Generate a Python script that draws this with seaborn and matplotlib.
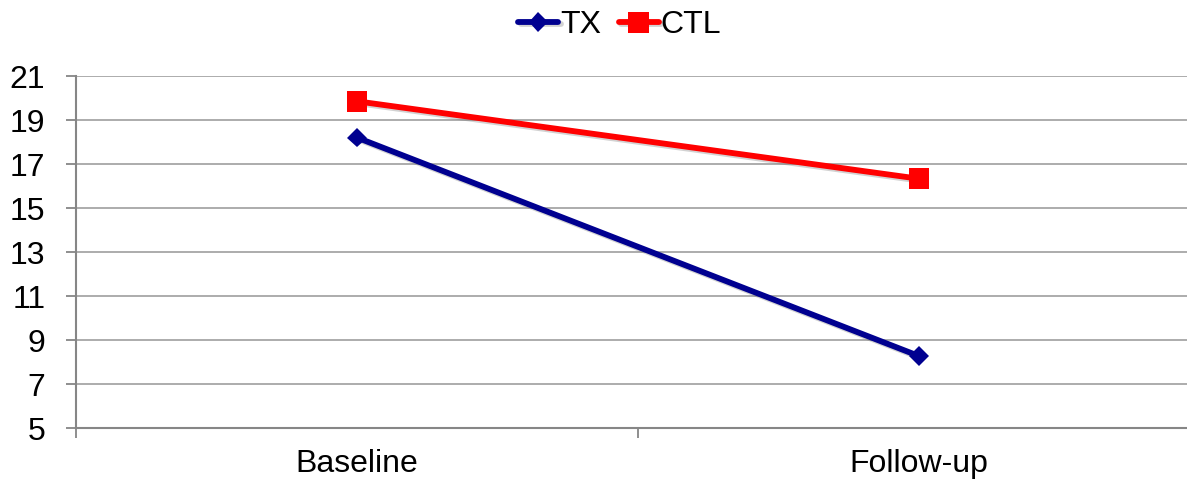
import matplotlib
matplotlib.use("Agg")
import matplotlib.pyplot as plt
import matplotlib.patheffects as pe
import seaborn as sns
import pandas as pd

# Mean scores at each time point
timepoints = ["Baseline", "Follow-up"]
tx_values = [18.2, 8.27]
ctl_values = [19.85, 16.33]
y_ticks = [5, 7, 9, 11, 13, 15, 17, 19, 21]

df = pd.DataFrame({
    "time": timepoints * 2,
    "value": tx_values + ctl_values,
    "group": ["TX"] * len(tx_values) + ["CTL"] * len(ctl_values),
})
df["pos"] = df["time"].map({t: i for i, t in enumerate(timepoints)})

sns.set_theme(style="white")
plt.rcParams["font.family"] = ["Liberation Sans", "DejaVu Sans"]
plt.rcParams["text.color"] = "black"

FS = 23

fig = plt.figure(figsize=(11.87, 4.82), dpi=100)
ax = fig.add_axes([76 / 1187, 54 / 482, 1124 / 1187, 352 / 482])

palette = {"TX": "#000090", "CTL": "#ff0000"}
markers = {"TX": "D", "CTL": "s"}
sizes = {"TX": 10, "CTL": 15}
shadow = [pe.SimpleLineShadow(offset=(1.5, -1.5), shadow_color="#808080", alpha=0.35),
          pe.Normal()]

for g in ["TX", "CTL"]:
    sub = df[df["group"] == g]
    sns.lineplot(data=sub, x="pos", y="value", ax=ax, color=palette[g],
                 linewidth=4.2, marker=markers[g], markersize=sizes[g],
                 markeredgewidth=0, label=g, sort=False, zorder=3,
                 path_effects=shadow)

ax.set_xlim(-0.5, 1.5)
ax.set_ylim(5, 21)
ax.set_yticks(y_ticks)
ax.set_yticklabels([str(v) for v in y_ticks], fontsize=FS)
ax.set_xticks(range(len(timepoints)))
ax.set_xticklabels(timepoints, fontsize=FS)
ax.set_xticks([-0.5, 0.5, 1.5], minor=True)
ax.set_xlabel("")
ax.set_ylabel("")

ax.grid(axis="y", color="#a6a6a6", linewidth=1.3, zorder=0)
ax.grid(axis="x", visible=False)
for side in ["top", "right"]:
    ax.spines[side].set_visible(False)
for side in ["left", "bottom"]:
    ax.spines[side].set_color("#868686")
    ax.spines[side].set_linewidth(1.5)

ax.tick_params(axis="y", which="major", length=7, width=1.3, color="#868686",
               direction="out", left=True, pad=15, labelcolor="black")
ax.tick_params(axis="x", which="major", length=0, pad=15, labelcolor="black")
ax.tick_params(axis="x", which="minor", length=7, width=1.3, color="#868686",
               direction="out", bottom=True)

handles, labels = ax.get_legend_handles_labels()
leg = ax.legend(handles, labels, loc="upper center", bbox_to_anchor=(0.522, 0.985),
                bbox_transform=fig.transFigure, ncol=2, frameon=False,
                fontsize=FS, handlelength=1.25, handletextpad=0.05,
                columnspacing=0.55, borderaxespad=0.0, borderpad=0.1)
for txt in leg.get_texts():
    txt.set_color("black")

fig.savefig("out.png", dpi=100)
